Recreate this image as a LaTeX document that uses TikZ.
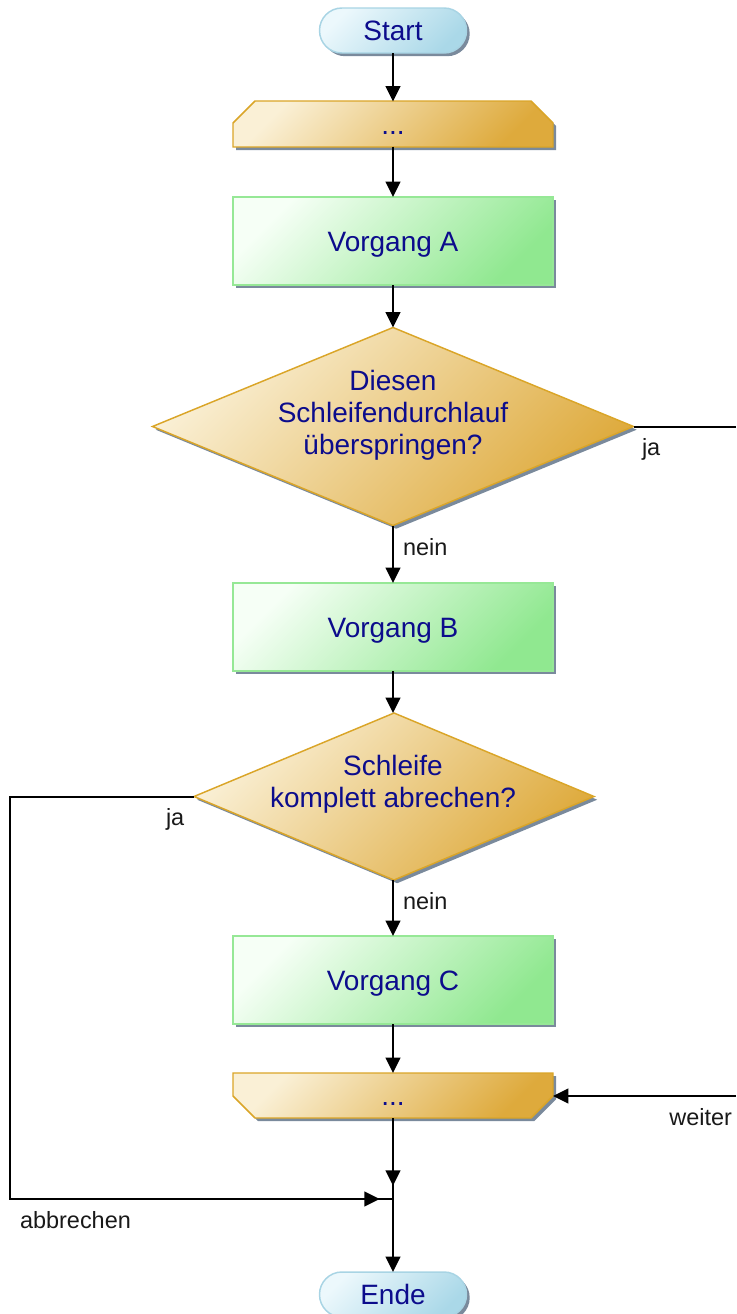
\documentclass[tikz,border=0pt]{standalone}
\usepackage{fontspec}
\setmainfont{Liberation Sans}
\usetikzlibrary{shapes.geometric,shadows,arrows.meta,calc}
\definecolor{txtblue}{RGB}{12,12,140}
\definecolor{shcol}{RGB}{122,138,156}
\definecolor{termlight}{RGB}{236,248,252}
\definecolor{termdark}{RGB}{170,216,232}
\definecolor{termline}{RGB}{168,212,228}
\definecolor{proclight}{RGB}{246,255,246}
\definecolor{procdark}{RGB}{144,232,144}
\definecolor{procline}{RGB}{150,232,150}
\definecolor{declight}{RGB}{250,240,214}
\definecolor{decdark}{RGB}{222,170,60}
\definecolor{decline}{RGB}{218,165,40}
\begin{document}
\begin{tikzpicture}[x=0.75pt,y=-0.75pt,
  every node/.style={outer sep=0pt},
  maintext/.style={text=txtblue,font=\fontsize{21}{24}\selectfont,align=center},
  onetext/.style={maintext,text height=15pt,text depth=0pt},
  lbl/.style={text=black!90,font=\fontsize{17.6}{20}\selectfont,inner sep=0pt},
  shadowed/.style={general shadow={fill=shcol,shadow xshift=2.4pt,shadow yshift=-2.4pt}},
  term/.style={onetext,shadowed,rectangle,rounded corners=16.8pt,minimum width=110.25pt,minimum height=33.75pt,
    draw=termline,line width=1.1pt,top color=termlight,bottom color=termdark,shading angle=45},
  proc/.style={onetext,shadowed,rectangle,minimum width=240pt,minimum height=66pt,
    draw=procline,line width=1.1pt,top color=proclight,bottom color=procdark,shading angle=45},
  dec/.style={shadowed,diamond,inner sep=0pt,draw=decline,line width=1.1pt,top color=declight,bottom color=decdark,shading angle=45},
  loopshape/.style={draw=decline,line width=1.1pt,top color=declight,bottom color=decdark,shading angle=45},
  loopbox/.style={onetext,rectangle,minimum width=240pt,minimum height=33.75pt},
  conn/.style={line width=1.5pt,-{Triangle[length=11.5pt,width=11pt]}},
  plain/.style={line width=1.5pt}
]
\useasboundingbox (0,0) rectangle (736,1314);

% Start
\node[term] (start) at (393,30.5) {Start};

% Loop begin
\fill[shcol,xshift=2.4pt,yshift=-2.4pt] (233,147) -- (233,123) -- (255,101) -- (531,101) -- (553,123) -- (553,147) -- cycle;
\shade[loopshape] (233,147) -- (233,123) -- (255,101) -- (531,101) -- (553,123) -- (553,147) -- cycle;
\node[loopbox] (l1) at (393,124) {...};

% Vorgang A
\node[proc] (a) at (393,241) {Vorgang A};

% Decision 1
\node[dec,minimum width=360.75pt,minimum height=148.5pt] (d1) at (393,426.5) {};
\node[maintext] (d1t) at (393,415.5) {Diesen\\Schleifendurchlauf\\überspringen?};

% Vorgang B
\node[proc] (b) at (393,627) {Vorgang B};

% Decision 2
\node[dec,minimum width=300pt,minimum height=125.25pt] (d2) at (394,796.5) {};
\node[maintext] (d2t) at (393,784) {Schleife\\komplett abrechen?};

% Vorgang C
\node[proc] (c) at (393,980) {Vorgang C};

% Loop end
\fill[shcol,xshift=2.4pt,yshift=-2.4pt] (233,1073) -- (553,1073) -- (553,1096) -- (531,1118) -- (255,1118) -- (233,1096) -- cycle;
\shade[loopshape] (233,1073) -- (553,1073) -- (553,1096) -- (531,1118) -- (255,1118) -- (233,1096) -- cycle;
\node[loopbox] (l2) at (393,1095.5) {...};

% Ende
\node[term] (ende) at (393,1294.5) {Ende};

% free ends and junction
\coordinate (jaend) at (736,426.5);
\coordinate (weiterstart) at (736,1096);
\coordinate (leftcorner) at (10,796.5);
\coordinate (junc) at (393,1199);

% connectors
\draw[conn] (start) -- (l1);
\draw[conn] (l1) -- (a);
\draw[conn] (a) -- (d1.north);
\draw[plain] (d1.east) -- (jaend);
\draw[conn] (d1.south) -- (b);
\draw[conn] (b) -- (d2.north -| b);
\draw[plain] (d2.west) -- (leftcorner) |- (junc);
\draw[conn,shorten >=10pt] (leftcorner |- junc) -- (junc);
\draw[conn] (d2.south -| c) -- (c);
\draw[conn] (c) -- (l2);
\draw[conn] (weiterstart) -- (553,1096);
\draw[conn,shorten >=10pt] (l2) -- (junc);
\draw[conn] (l2) -- (ende);

% labels
\node[lbl,anchor=base west] (lja1) at (642,455) {ja};
\node[lbl,anchor=base west] (lnein1) at (403,555) {nein};
\node[lbl,anchor=base west] (lja2) at (166,825) {ja};
\node[lbl,anchor=base west] (lnein2) at (403,909) {nein};
\node[lbl,anchor=base east] (lweiter) at (732,1125) {weiter};
\node[lbl,anchor=base west] (labbr) at (20,1228) {abbrechen};
\end{tikzpicture}
\end{document}
